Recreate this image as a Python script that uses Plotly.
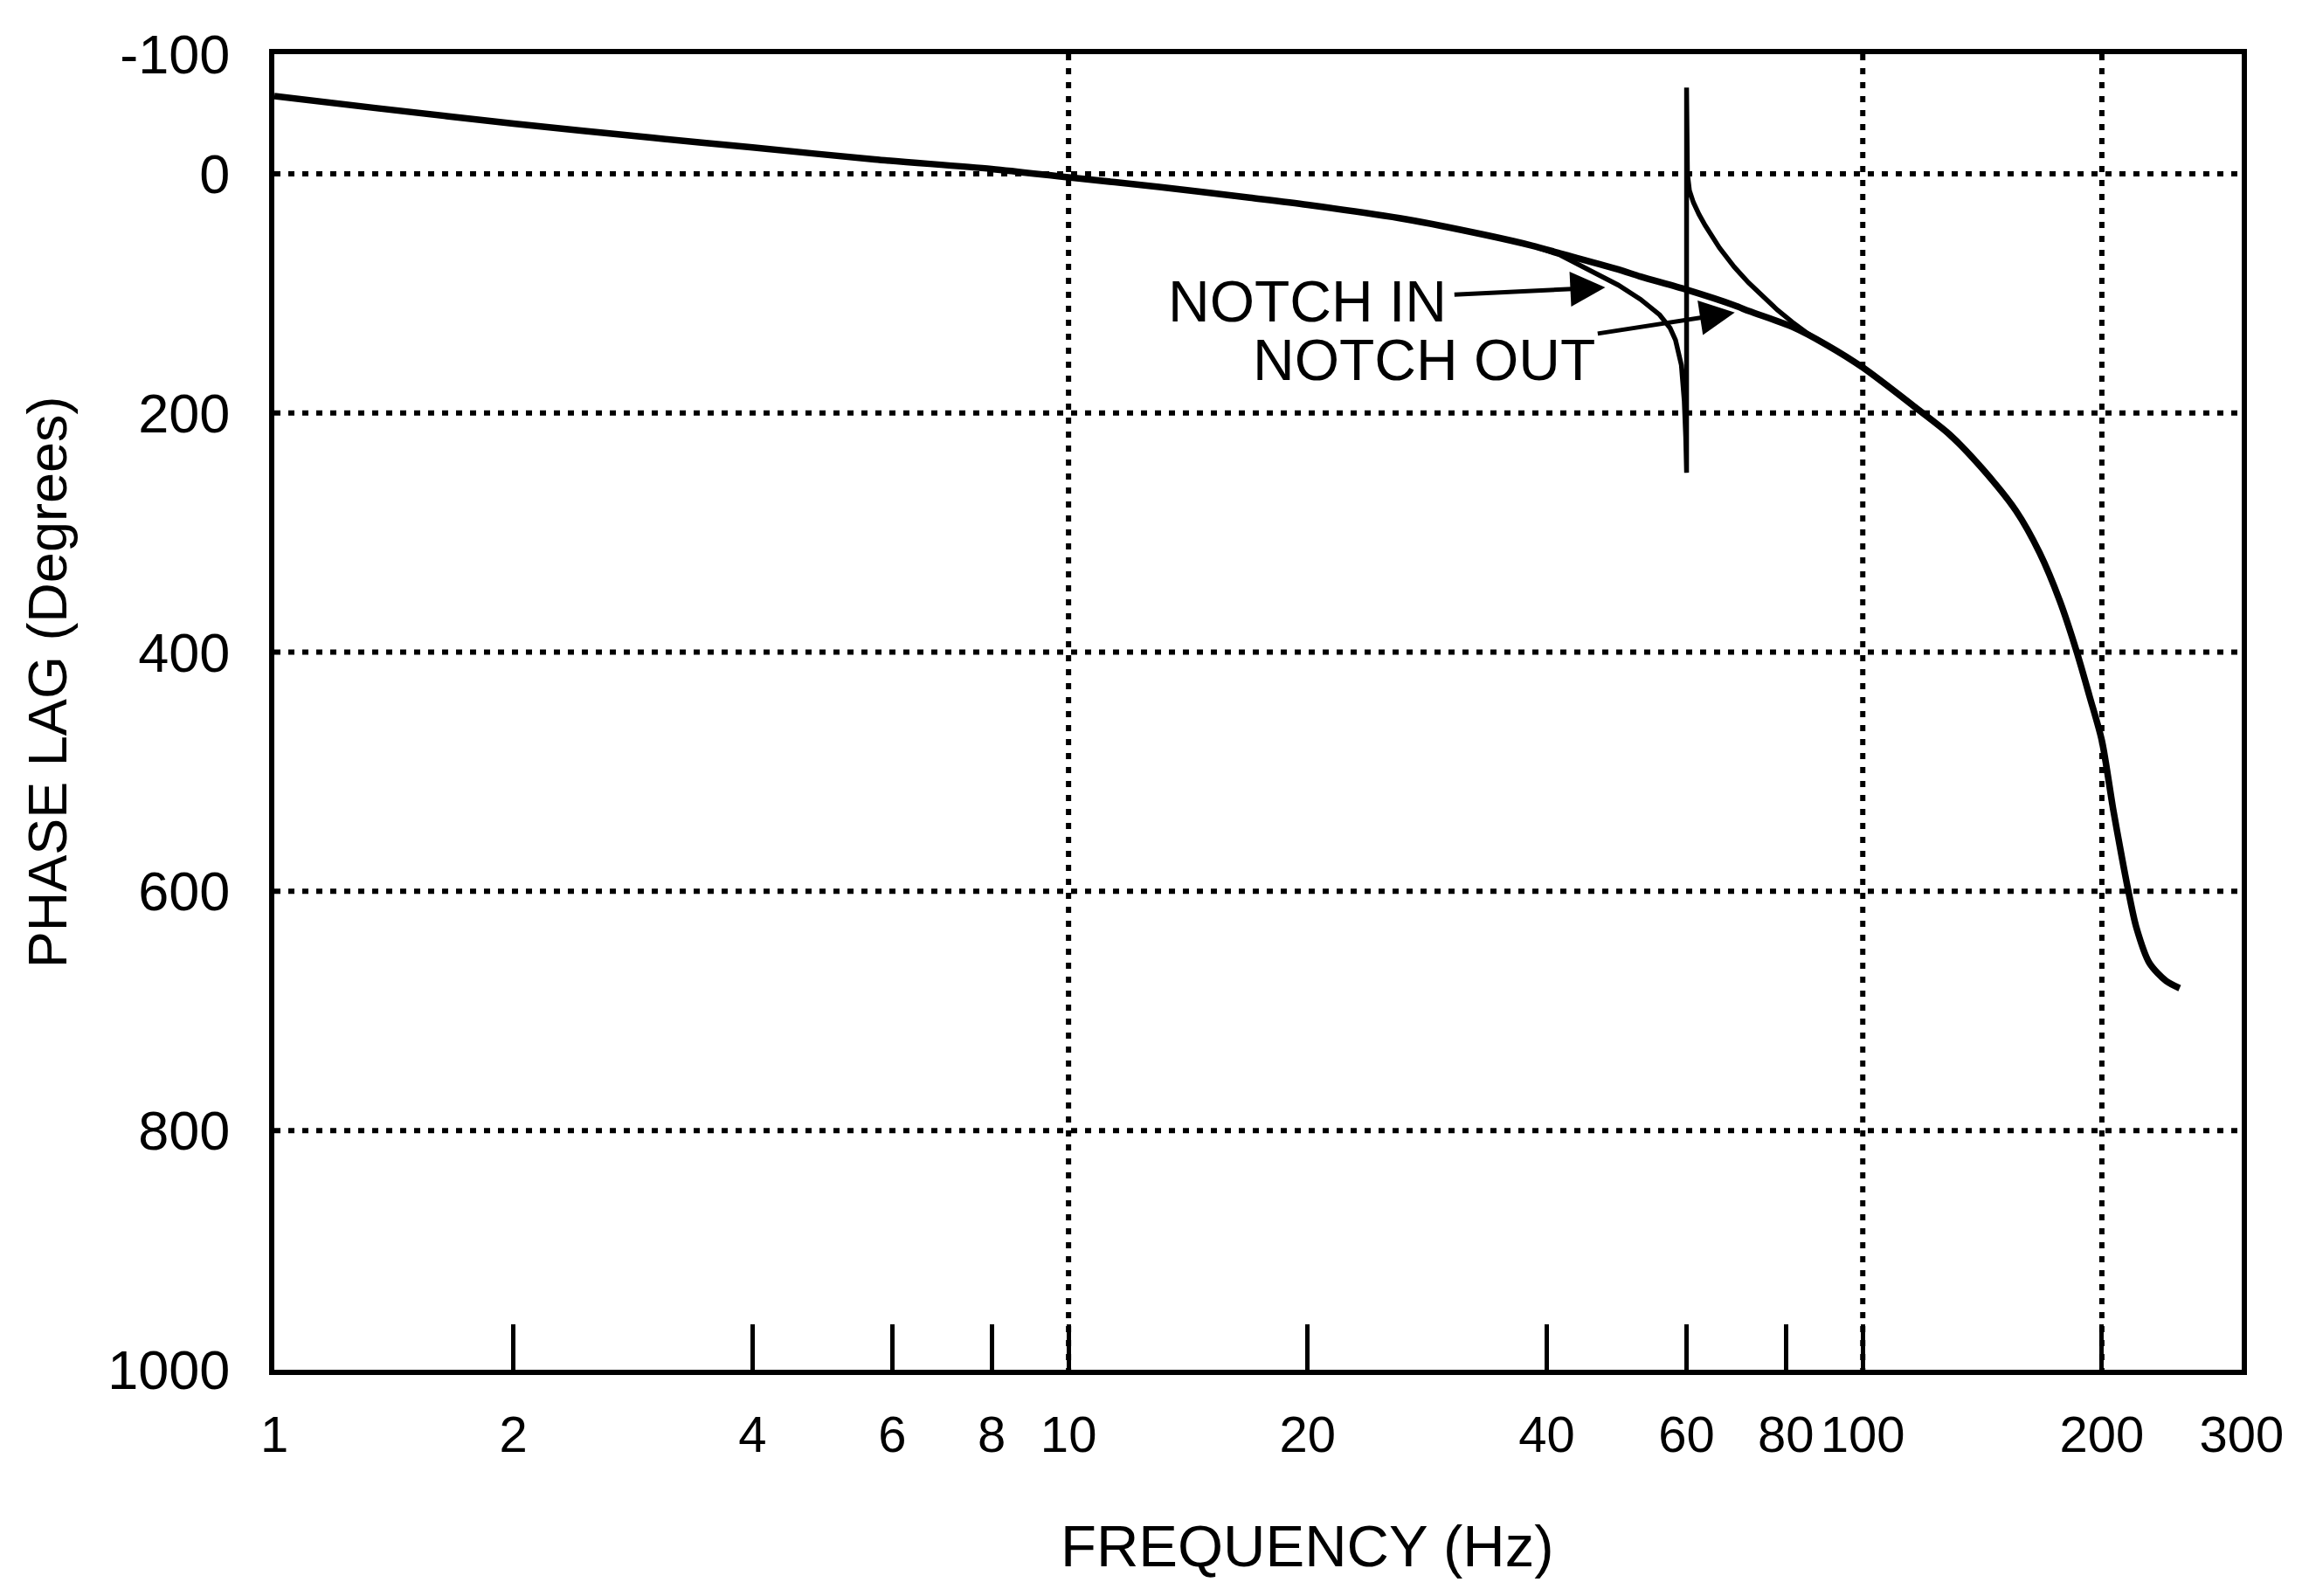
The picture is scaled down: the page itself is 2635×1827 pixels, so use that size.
import math
import plotly.graph_objects as go

# ---------------- data ----------------
FREQ_OUT = [1, 1.34, 2, 3, 4, 5.7, 8, 10, 13, 16.9, 20, 26.6, 33.4, 38.3, 41.8,
            49.2, 52.5, 60, 68.9, 72, 81.5, 90, 100, 116.8, 128.6, 141.6, 156,
            167, 177, 186, 193, 200, 206.5, 212, 216, 221, 229.6, 241, 250.6]
PHASE_OUT = [-65, -55, -42, -30, -22, -12, -4, 3, 11, 20, 26, 38, 51, 60, 67,
             80, 86, 97, 110, 115, 128, 143, 162, 196, 218, 247, 282,
             317, 357, 400, 437, 474, 530, 572, 600, 630, 660, 675, 681]

FREQ_IN = [33.4, 38.3, 41.6, 44, 46.8, 49.2, 52.5, 55.5, 57.2, 58.1, 59.1, 59.6,
           59.85, 60, 60, 60.05, 60.15, 60.5, 61.2, 62.2, 63.3, 66, 68.9, 71.8,
           74.9, 78.1, 81.5, 85, 90]
PHASE_IN = [51, 60, 68, 76, 85, 93, 105, 118, 129, 139, 160, 190,
            220, 250, -72, -30, 0, 14, 24, 34, 43, 62, 78, 91,
            103, 114, 124, 133, 143]

X_TICKS = [1, 2, 4, 6, 8, 10, 20, 40, 60, 80, 100, 200, 300]
X_TICK_TEXT = [str(v) for v in X_TICKS]
Y_TICKS = [-100, 0, 200, 400, 600, 800, 1000]
GRID_X = [10, 100, 200]
GRID_Y = [0, 200, 400, 600, 800]
X_RANGE = [1, 300]
Y_RANGE = [-100, 1000]

# annotation anchor points (frequency, phase)
NOTCH_IN_TEXT = (20.0, 107)
NOTCH_IN_TIP = (47.4, 95)
NOTCH_OUT_TEXT = (28.05, 156)
NOTCH_OUT_TIP = (69.0, 116)

FONT = "Liberation Sans, Arial, Helvetica, sans-serif"
DOT = "7px,9px"

fig = go.Figure()

# dotted grid
for gx in GRID_X:
    fig.add_trace(go.Scatter(x=[gx, gx], y=Y_RANGE, mode="lines",
                             line=dict(color="black", width=6, dash=DOT),
                             hoverinfo="skip", showlegend=False))
for gy in GRID_Y:
    fig.add_trace(go.Scatter(x=X_RANGE, y=[gy, gy], mode="lines",
                             line=dict(color="black", width=6, dash=DOT),
                             hoverinfo="skip", showlegend=False))

# curves
fig.add_trace(go.Scatter(x=FREQ_IN, y=PHASE_IN, mode="lines", name="NOTCH IN",
                         line=dict(color="black", width=5.5), showlegend=False))
fig.add_trace(go.Scatter(x=FREQ_OUT, y=PHASE_OUT, mode="lines", name="NOTCH OUT",
                         line=dict(color="black", width=7.5, shape="spline", smoothing=0.8),
                         showlegend=False))

ann_font = dict(family=FONT, size=66, color="black")
annotations = [
    dict(x=math.log10(NOTCH_IN_TIP[0]), y=NOTCH_IN_TIP[1], xref="x", yref="y",
         ax=math.log10(NOTCH_IN_TEXT[0]), ay=NOTCH_IN_TEXT[1], axref="x", ayref="y",
         text="NOTCH IN", showarrow=True, arrowhead=2, arrowsize=1.6, arrowwidth=5,
         arrowcolor="black", standoff=0, borderpad=8, font=ann_font),
    dict(x=math.log10(NOTCH_OUT_TIP[0]), y=NOTCH_OUT_TIP[1], xref="x", yref="y",
         ax=math.log10(NOTCH_OUT_TEXT[0]), ay=NOTCH_OUT_TEXT[1], axref="x", ayref="y",
         text="NOTCH OUT", showarrow=True, arrowhead=2, arrowsize=1.6, arrowwidth=5,
         arrowcolor="black", standoff=0, borderpad=2, font=ann_font),
    dict(x=-0.1155, y=0.523, xref="paper", yref="paper", text="PHASE LAG (Degrees)",
         textangle=-90, showarrow=False, xanchor="center", yanchor="middle",
         font=dict(family=FONT, size=63, color="black")),
    dict(x=0.525, y=-0.134, xref="paper", yref="paper", text="FREQUENCY (Hz)",
         showarrow=False, xanchor="center", yanchor="middle",
         font=dict(family=FONT, size=67, color="black")),
]

fig.update_layout(
    width=2635, height=1827,
    margin=dict(l=314, r=69, t=62, b=259),
    paper_bgcolor="white", plot_bgcolor="white",
    font=dict(family=FONT, color="black"),
    annotations=annotations,
    showlegend=False,
)
fig.update_xaxes(
    type="log", range=[math.log10(X_RANGE[0]), math.log10(X_RANGE[1])],
    tickmode="array", tickvals=X_TICKS, ticktext=X_TICK_TEXT, tickangle=0,
    ticks="inside", ticklen=52, tickwidth=5, tickcolor="black",
    showgrid=False, zeroline=False,
    showline=True, linecolor="black", linewidth=6, mirror=True,
    tickfont=dict(family=FONT, size=58, color="black"),
    ticklabelstandoff=18,
)
fig.update_yaxes(
    range=[Y_RANGE[1], Y_RANGE[0]],
    tickmode="array", tickvals=Y_TICKS, ticktext=[str(v) for v in Y_TICKS],
    ticks="", showgrid=False, zeroline=False,
    showline=True, linecolor="black", linewidth=6, mirror=True,
    tickfont=dict(family=FONT, size=63, color="black"),
    ticklabelstandoff=32,
)

fig.write_html("out.html")
